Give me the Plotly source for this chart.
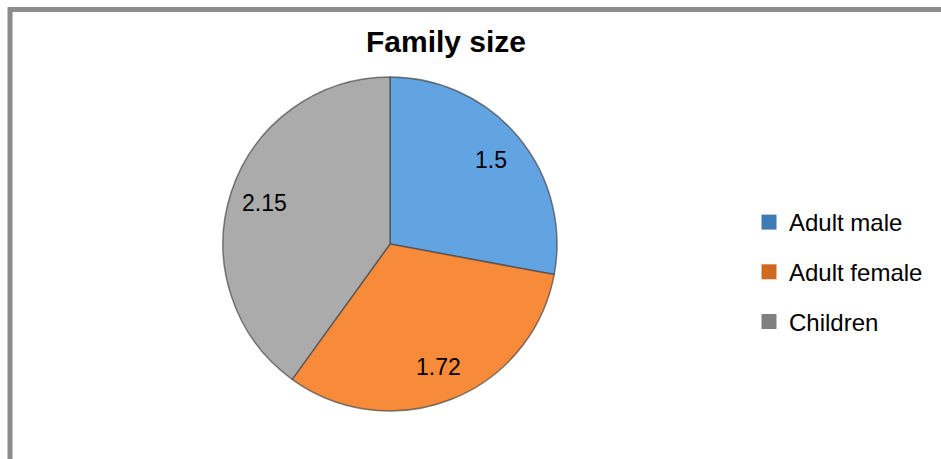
import math
import plotly.graph_objects as go

categories = ["Adult male", "Adult female", "Children"]
values = [1.5, 1.72, 2.15]
slice_colors = ["#62A3E2", "#F88B3A", "#ABABAB"]
legend_colors = ["#3F7AB5", "#D06920", "#808080"]
title_text = "Family size"

W, H = 941, 459
cx, cy, r = 390, 244, 167
label_frac = 0.79

fig = go.Figure()
fig.add_trace(go.Pie(
    labels=categories,
    values=values,
    sort=False,
    direction="clockwise",
    rotation=0,
    marker=dict(colors=slice_colors, line=dict(color="rgba(70,70,70,0.7)", width=1.5)),
    textinfo="none",
    showlegend=False,
    hoverinfo="label+value",
    domain=dict(x=[(cx - r) / W, (cx + r) / W], y=[(H - cy - r) / H, (H - cy + r) / H]),
))

# data labels placed along each slice's mid-angle (computed from the values)
total = sum(values)
cum = 0.0
annotations = []
for v in values:
    theta = math.radians((cum + v / 2) / total * 360)
    cum += v
    px = cx + label_frac * r * math.sin(theta)
    py = cy - label_frac * r * math.cos(theta)
    annotations.append(dict(
        text=f"{v:g}", x=px / W, y=1 - py / H, xref="paper", yref="paper",
        xanchor="center", yanchor="middle", showarrow=False,
        font=dict(family="Liberation Sans", size=23, color="black"),
    ))

for i, (name, col) in enumerate(zip(categories, legend_colors)):
    fig.add_trace(go.Scatter(
        x=[None], y=[None], mode="markers", name=name,
        legendgroup=f"g{i}",
        marker=dict(symbol="square", size=15, color=col),
    ))

fig.update_layout(
    width=W, height=H,
    margin=dict(l=0, r=0, t=0, b=0),
    paper_bgcolor="white", plot_bgcolor="white",
    xaxis=dict(visible=False), yaxis=dict(visible=False),
    title=dict(text=f"<b>{title_text}</b>", x=446 / W, xanchor="center",
               y=1 - 41 / H, yanchor="middle",
               font=dict(family="Liberation Sans", size=30, color="black")),
    legend=dict(x=749 / W, xanchor="left", y=1 - 200 / H, yanchor="top",
                font=dict(family="Liberation Sans", size=24, color="black"),
                tracegroupgap=15.5, bgcolor="rgba(0,0,0,0)"),
    annotations=annotations,
    shapes=[dict(type="rect", xref="paper", yref="paper",
                 x0=10 / W, x1=1.05, y0=1 - 9.5 / H, y1=-0.05,
                 line=dict(color="#8C8C8C", width=5))],
)

fig.write_html("out.html")
